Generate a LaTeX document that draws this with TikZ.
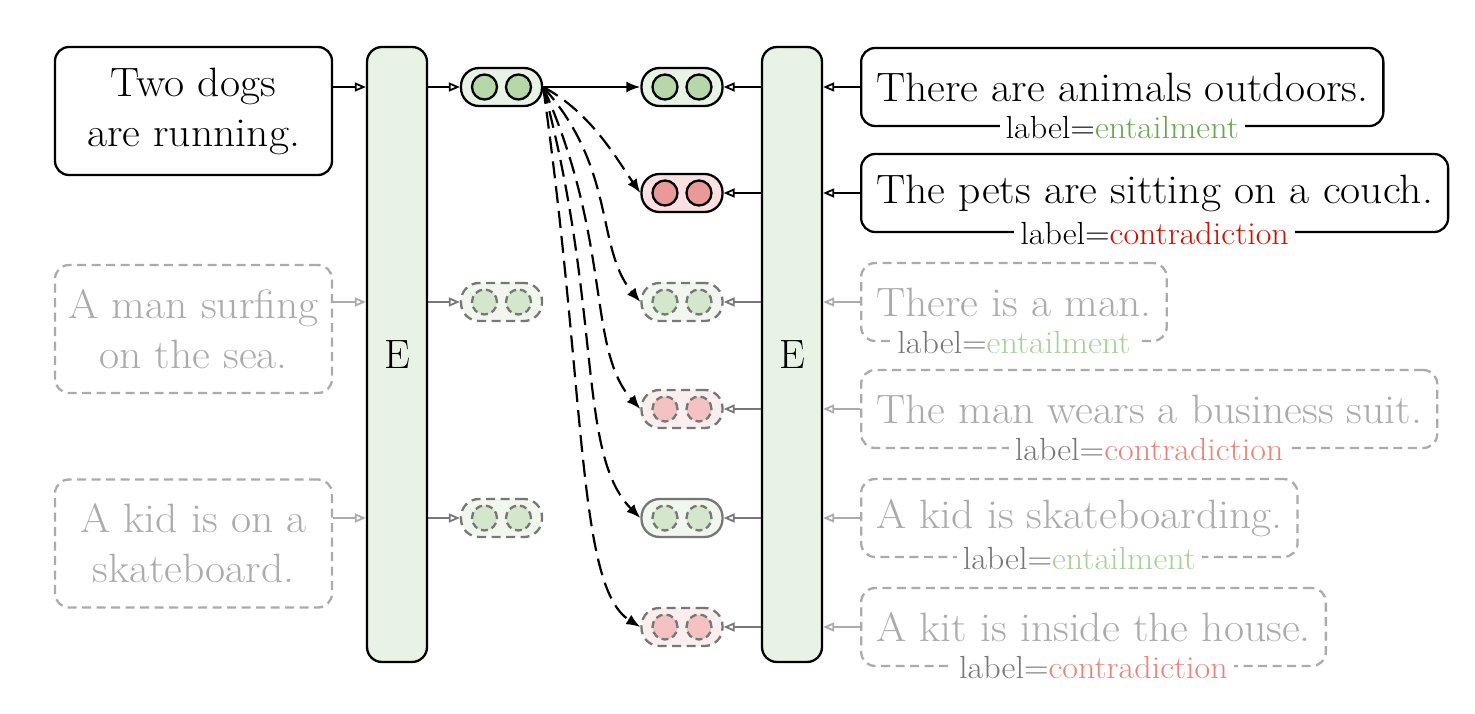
\documentclass[tikz,border=0pt]{standalone}
\usetikzlibrary{arrows.meta}
\definecolor{encfill}{HTML}{E8F2E5}
\definecolor{pillG}{HTML}{E8F3E5}
\definecolor{pillR}{HTML}{F9E1E1}
\definecolor{pillGl}{HTML}{F1F7EF}
\definecolor{pillRl}{HTML}{FBEEEE}
\definecolor{circG}{HTML}{B6D7A8}
\definecolor{circR}{HTML}{EA9999}
\definecolor{circGl}{HTML}{D4E7CC}
\definecolor{circRl}{HTML}{F4C2C2}
\definecolor{fadetext}{HTML}{ABABAB}
\definecolor{fadeline}{HTML}{ABABAB}
\definecolor{midgray}{HTML}{777777}
\definecolor{entG}{HTML}{6AA84F}
\definecolor{conR}{HTML}{CC1100}
\definecolor{entGl}{HTML}{A9D09A}
\definecolor{conRl}{HTML}{E8847A}
\newcommand\bigtxt{\fontsize{41}{50}\selectfont}
\newcommand\lbltxt{\fontsize{32}{36}\selectfont}
\newcommand\st[1]{\scalebox{1.065}[1]{#1}}
\newcommand\embnode[5]{%
  \node[#4] (#1) at (#2,#3) {};
  \node[#5] (#1a) at ([xshift=-17pt]#1.center) {};
  \node[#5] (#1b) at ([xshift=17pt]#1.center) {};}
\tikzset{
  lw/.style={line width=2.3pt},
  dsh/.style={dash pattern=on 9pt off 5.5pt},
  pill/.style={rectangle, rounded corners=18pt, minimum width=81pt, minimum height=38pt, inner sep=0pt, lw},
  pG/.style={pill, draw=black, fill=pillG},
  pR/.style={pill, draw=black, fill=pillR},
  pGd/.style={pill, draw=midgray, dsh, fill=pillGl},
  pGs/.style={pill, draw=midgray, fill=pillGl},
  pRd/.style={pill, draw=midgray, dsh, fill=pillRl},
  circ/.style={circle, minimum size=25pt, inner sep=0pt, lw},
  cG/.style={circ, draw=black, fill=circG},
  cR/.style={circ, draw=black, fill=circR},
  cGd/.style={circ, draw=midgray, dash pattern=on 7pt off 4pt, fill=circGl},
  cRd/.style={circ, draw=midgray, dash pattern=on 7pt off 4pt, fill=circRl},
  enc/.style={draw=black, lw, fill=encfill, rounded corners=15pt, minimum width=60pt, minimum height=615pt, inner sep=0pt, font=\bigtxt},
  lbox/.style={draw=black, lw, rounded corners=14pt, minimum width=277pt, minimum height=128pt, align=center, font=\bigtxt, inner sep=0pt},
  lboxf/.style={lbox, draw=fadeline, dsh, text=fadetext},
  rbox/.style={draw=black, lw, rounded corners=14pt, minimum height=78pt, inner xsep=15pt, inner ysep=0pt, anchor=west, font=\bigtxt},
  rboxf/.style={rbox, draw=fadeline, dsh, text=fadetext},
  lbl/.style={fill=white, inner xsep=6pt, inner ysep=0pt, font=\lbltxt},
  oarr/.style={line width=1.8pt, -{Triangle[open, length=11pt, width=9pt]}},
  farr/.style={line width=2.2pt, -{Latex[length=14pt, width=11pt]}},
  darr/.style={line width=2.2pt, dash pattern=on 17pt off 8pt, -{Latex[length=14pt, width=11pt]}},
}
\begin{document}
\begin{tikzpicture}[x=1pt,y=1pt]
\useasboundingbox (0,0) rectangle (1475,-714);
% encoders
\node[enc] (EL) at (397,-354.5) {E};
\node[enc] (ER) at (792,-354.5) {E};
% left sentence boxes
\node[lbox] (L1) at (193.5,-111) {\st{Two dogs}\\\st{are running.}};
\node[lboxf] (L2) at (193.5,-329) {\st{A man surfing}\\\st{on the sea.}};
\node[lboxf] (L3) at (193.5,-543.5) {\st{A kid is on a}\\\st{skateboard.}};
% embeddings
\embnode{eL1}{501.5}{-87}{pG}{cG}
\embnode{eL2}{501.5}{-302}{pGd}{cGd}
\embnode{eL3}{501.5}{-518}{pGd}{cGd}
\embnode{eR1}{682}{-87}{pG}{cG}
\embnode{eR2}{682}{-193}{pR}{cR}
\embnode{eR3}{682}{-302}{pGd}{cGd}
\embnode{eR4}{682}{-409}{pRd}{cRd}
\embnode{eR5}{682}{-518}{pGs}{cGd}
\embnode{eR6}{682}{-627}{pRd}{cRd}
% right sentence boxes
\node[rbox] (R1) at (860,-87) {\st{There are animals outdoors.}};
\node[lbl] (T1) at (R1.south) {\st{label=\textcolor{entG}{entailment}}};
\node[rbox] (R2) at (860,-193) {\st{The pets are sitting on a couch.}};
\node[lbl] (T2) at (R2.south) {\st{label=\textcolor{conR}{contradiction}}};
\node[rboxf] (R3) at (860,-302) {\st{There is a man.}};
\node[lbl, text=midgray] (T3) at (R3.south) {\st{label=\textcolor{entGl}{entailment}}};
\node[rboxf] (R4) at (860,-409) {\st{The man wears a business suit.}};
\node[lbl, text=midgray] (T4) at (R4.south) {\st{label=\textcolor{conRl}{contradiction}}};
\node[rboxf] (R5) at (860,-518) {\st{A kid is skateboarding.}};
\node[lbl, text=midgray] (T5) at (R5.south) {\st{label=\textcolor{entGl}{entailment}}};
\node[rboxf] (R6) at (860,-627) {\st{A kit is inside the house.}};
\node[lbl, text=midgray] (T6) at (R6.south) {\st{label=\textcolor{conRl}{contradiction}}};
% left arrows
\draw[oarr] (L1.east |- eL1) -- (EL.west |- eL1);
\draw[oarr, fadeline] (L2.east |- eL2) -- (EL.west |- eL2);
\draw[oarr, fadeline] (L3.east |- eL3) -- (EL.west |- eL3);
\draw[oarr] (EL.east |- eL1) -- (eL1.west);
\draw[oarr, midgray] (EL.east |- eL2) -- (eL2.west);
\draw[oarr, midgray] (EL.east |- eL3) -- (eL3.west);
% right arrows
\draw[oarr] (R1.west) -- (ER.east |- R1.west);
\draw[oarr] (R2.west) -- (ER.east |- R2.west);
\draw[oarr, fadeline] (R3.west) -- (ER.east |- R3.west);
\draw[oarr, fadeline] (R4.west) -- (ER.east |- R4.west);
\draw[oarr, fadeline] (R5.west) -- (ER.east |- R5.west);
\draw[oarr, fadeline] (R6.west) -- (ER.east |- R6.west);
\draw[oarr] (ER.west |- eR1) -- (eR1.east);
\draw[oarr] (ER.west |- eR2) -- (eR2.east);
\draw[oarr, midgray] (ER.west |- eR3) -- (eR3.east);
\draw[oarr, midgray] (ER.west |- eR4) -- (eR4.east);
\draw[oarr, midgray] (ER.west |- eR5) -- (eR5.east);
\draw[oarr, midgray] (ER.west |- eR6) -- (eR6.east);
% comparison arrows
\draw[farr] (eL1.east) -- (eR1.west);
\draw[darr] (eL1.east) to[out=-28, in=125, out distance=55pt, in distance=40pt] (eR2.west);
\draw[darr] (eL1.east) to[out=-48, in=130, out distance=110pt, in distance=70pt] (eR3.west);
\draw[darr] (eL1.east) to[out=-66, in=132, out distance=170pt, in distance=80pt] (eR4.west);
\draw[darr] (eL1.east) to[out=-75, in=135, out distance=230pt, in distance=90pt] (eR5.west);
\draw[darr] (eL1.east) to[out=-82, in=148, out distance=310pt, in distance=75pt] (eR6.west);
\end{tikzpicture}
\end{document}
